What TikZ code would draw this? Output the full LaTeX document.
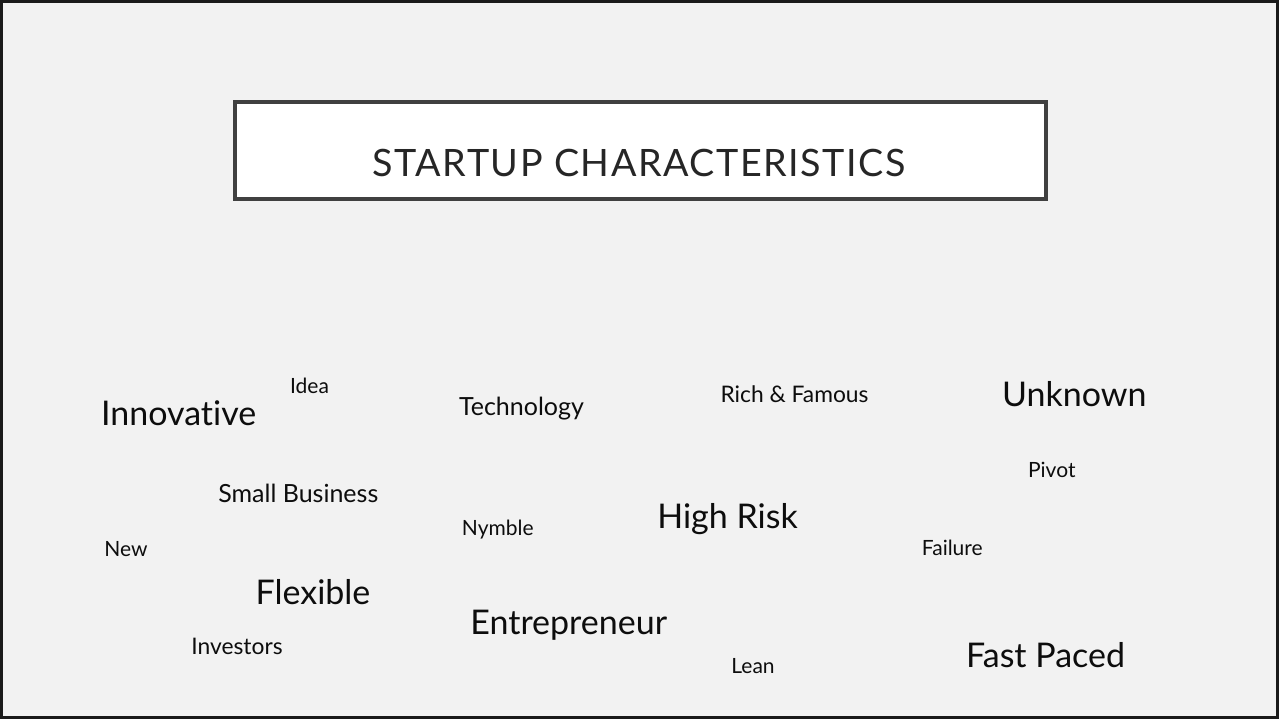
\documentclass[tikz,border=0pt]{standalone}
\usepackage{fontspec}
\setmainfont{Lato}[Ligatures={NoCommon}]
\usepackage[HTML]{xcolor}
\usepackage{tikz}
\usetikzlibrary{positioning}

\definecolor{slidebg}{HTML}{F2F2F2}
\definecolor{boxline}{HTML}{404040}
\definecolor{wordcol}{HTML}{0D0D0D}

\begin{document}
\begin{tikzpicture}[x=1pt,y=-1pt,
  word/.style={anchor=base,inner sep=0pt,text=wordcol},
  huge/.style={word,font=\fontsize{34}{40}\selectfont},
  big/.style={word,font=\fontsize{25}{30}\selectfont},
  mid/.style={word,font=\fontsize{22.8}{28}\selectfont},
  tiny/.style={word,font=\fontsize{21}{26}\selectfont}]
\useasboundingbox (0,0) rectangle (1279,719);
\fill[slidebg] (0,0) rectangle (1279,719);
\draw[line width=3pt,black!90] (1.5,1.5) rectangle (1277.5,717.5);
% title box
\draw[line width=3.2pt,boxline,fill=white] (235,102) rectangle (1046,199);
\node[anchor=base,inner sep=0pt,text=black!85,
  font=\fontsize{37.7}{42}\selectfont\addfontfeature{LetterSpace=4}]
  (title) at (639,177) {STARTUP CHARACTERISTICS};
% word cloud
\node[huge] (innovative) at (178.7,425) {Innovative};
\node[tiny] (idea) at (309.5,393) {Idea};
\node[big] (smallbiz) at (298.3,502.7) {Small Business};
\node[tiny] (new) at (126,556.7) {New};
\node[big] (tech) at (521.5,415) {Technology};
\node[mid] (rich) at (794.5,402) {Rich \& Famous};
\node[huge] (unknown) at (1074.2,406.7) {Unknown};
\node[tiny] (pivot) at (1051.8,477.3) {Pivot};
\node[tiny] (failure) at (952.3,555) {Failure};
\node[huge] (fastpaced) at (1045.5,667) {Fast Paced};
\node[tiny] (nymble) at (497.8,535) {Nymble};
\node[huge] (highrisk) at (727.5,528) {High Risk};
\node[huge] (entre) at (568.7,634) {Entrepreneur};
\node[tiny] (lean) at (753,673.3) {Lean};
\node[huge] (flexible) at (313,604) {Flexible};
\node[mid] (investors) at (237,654) {Investors};
\end{tikzpicture}
\end{document}
